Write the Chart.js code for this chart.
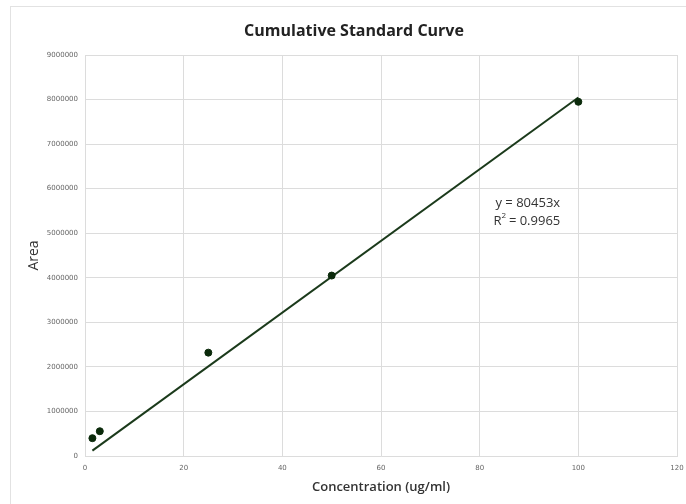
<!DOCTYPE html>
<html>
<head>
<meta charset="utf-8">
<script src="https://cdn.jsdelivr.net/npm/chart.js@4.4.1/dist/chart.umd.min.js"></script>
<style>
  html, body { margin: 0; padding: 0; background: #fff; }
  #wrap { position: relative; width: 686px; height: 504px; }
  #frame { position: absolute; left: 10px; top: 6px; width: 700px; height: 520px; border: 1px solid #e2e2e2; }
  canvas { position: absolute; left: 0; top: 0; }
</style>
</head>
<body>
<div id="wrap">
  <div id="frame"></div>
  <canvas id="chart" width="686" height="504"></canvas>
</div>
<script>
// --- data ---
const concentrations = [1.5, 3, 25, 50, 100];
const areas = [400000, 556000, 2320000, 4050000, 7950000];
const slope = 80453;
const rSquared = '0.9965';
const xTicks = [0, 20, 40, 60, 80, 100, 120];
const yMax = 9000000;

const points = concentrations.map((c, i) => ({ x: c, y: areas[i] }));
const xMin = Math.min(...concentrations);
const xMaxData = Math.max(...concentrations);
const trend = [
    { x: xMin, y: slope * xMin },
    { x: xMaxData, y: slope * xMaxData }
];

// draws the chart title, the x axis title and the trendline equation
const labelsPlugin = {
    id: 'labels',
    afterDraw(chart) {
        const ctx = chart.ctx;
        const xs = chart.scales.x, ys = chart.scales.y;
        const area = chart.chartArea;
        ctx.save();
        ctx.fillStyle = '#222';
        ctx.font = 'bold 16px "Open Sans", sans-serif';
        ctx.textAlign = 'center';
        ctx.textBaseline = 'middle';
        ctx.fillText('Cumulative Standard Curve', 354, 31);

        ctx.fillStyle = '#333';
        ctx.font = '600 13px "Open Sans", sans-serif';
        ctx.fillText('Concentration (ug/ml)', (area.left + area.right) / 2, 487);

        ctx.font = '13px "Open Sans", sans-serif';
        ctx.textAlign = 'left';
        const tx = xs.getPixelForValue(82.8);
        const ty = ys.getPixelForValue(5670000);
        ctx.fillText('y = ' + slope + 'x', tx + 2, ty);
        ctx.fillText('R', tx, ty + 18);
        const rw = ctx.measureText('R').width;
        ctx.font = '8px "Open Sans", sans-serif';
        ctx.fillText('2', tx + rw, ty + 12);
        ctx.font = '13px "Open Sans", sans-serif';
        ctx.fillText(' = ' + rSquared, tx + rw + 4, ty + 18);
        ctx.restore();
    }
};

new Chart(document.getElementById('chart'), {
    type: 'scatter',
    data: {
        datasets: [
            {
                label: 'Area',
                data: points,
                backgroundColor: '#0b2a0b',
                borderColor: '#0b2a0b',
                pointRadius: 3.5,
                pointHoverRadius: 3.5
            },
            {
                label: 'Linear',
                type: 'line',
                data: trend,
                borderColor: '#1b3a1b',
                borderWidth: 2,
                pointRadius: 0,
                fill: false
            }
        ]
    },
    options: {
        responsive: false,
        animation: false,
        layout: { padding: { top: 55, right: 0, left: 22, bottom: 4 } },
        plugins: {
            legend: { display: false },
            tooltip: { enabled: false },
            title: { display: false }
        },
        scales: {
            x: {
                type: 'linear',
                min: 0,
                max: 120,
                afterBuildTicks: axis => { axis.ticks = xTicks.map(v => ({ value: v })); },
                afterFit: axis => { axis.height = 44; axis.paddingRight = 9; },
                grid: { color: '#dcdcdc', drawTicks: false },
                border: { color: '#dcdcdc' },
                ticks: { color: '#666', font: { size: 7, family: '"DejaVu Sans"' }, padding: 8 },
                title: { display: false }
            },
            y: {
                min: 0,
                max: yMax,
                ticks: {
                    stepSize: 1000000,
                    color: '#666',
                    font: { size: 7, family: '"DejaVu Sans"' },
                    padding: 7,
                    callback: v => String(v)
                },
                afterFit: axis => { axis.width = 63; },
                grid: { color: '#dcdcdc', drawTicks: false },
                border: { color: '#dcdcdc' },
                title: {
                    display: true,
                    text: 'Area',
                    color: '#333',
                    font: { size: 14, family: '"Open Sans", sans-serif' },
                    padding: { bottom: 0 }
                }
            }
        }
    },
    plugins: [labelsPlugin]
});
</script>
</body>
</html>
